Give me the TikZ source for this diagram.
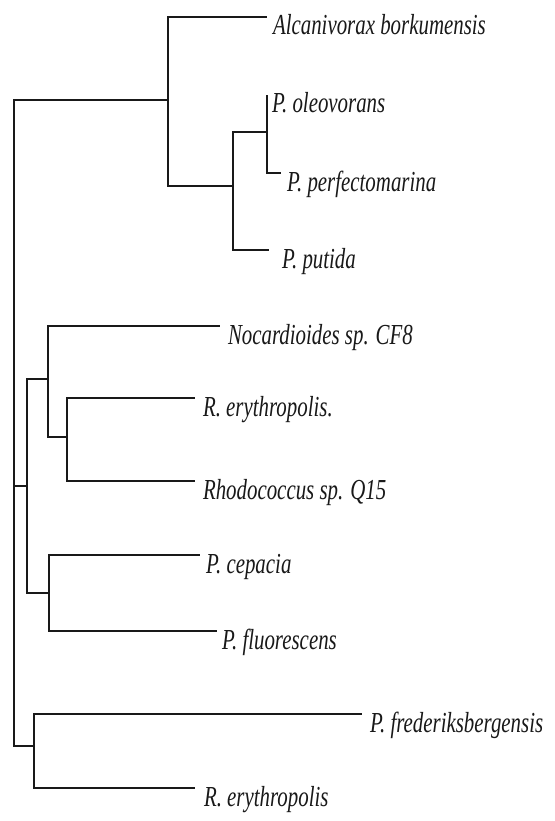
\documentclass[tikz,border=0pt]{standalone}
\usepackage{fontspec}
\setmainfont{Liberation Serif}
\usepackage{graphicx}
\newcommand\taxon[1]{\scalebox{0.72}[1]{\fontsize{29}{30}\selectfont\itshape #1}}
\begin{document}
\begin{tikzpicture}[x=1pt,y=-1pt,
  branch/.style={line width=2.2pt, line join=miter, draw=black!90},
  taxonlabel/.style={anchor=base west, inner sep=0pt, outer sep=0pt, text=black!90}]
\useasboundingbox[fill=white] (0,0) rectangle (554,821);
% internal nodes
\coordinate (root) at (14,486);
\coordinate (A) at (168,100);
\coordinate (B) at (233,186);
\coordinate (C) at (267,132);
\coordinate (D) at (27,486);
\coordinate (E) at (48,379);
\coordinate (F) at (67,437);
\coordinate (G) at (49,593);
\coordinate (H) at (34,746);
% leaf ends
\coordinate (alc) at (267,17);
\coordinate (ole) at (267,95);
\coordinate (per) at (281,173);
\coordinate (put) at (269,250);
\coordinate (noc) at (220,326);
\coordinate (rer1) at (195,398);
\coordinate (rho) at (195,481);
\coordinate (cep) at (200,555);
\coordinate (flu) at (217,631);
\coordinate (fre) at (362,714);
\coordinate (rer2) at (195,788);
% branches
\draw[branch] (root) |- (A);
\draw[branch] (root) -- (D);
\draw[branch] (root) |- (H);
\draw[branch] (A) |- (alc);
\draw[branch] (A) |- (B);
\draw[branch] (B) |- (C);
\draw[branch] (B) |- (put);
\draw[branch] (C) |- (ole);
\draw[branch] (C) |- (per);
\draw[branch] (D) |- (E);
\draw[branch] (D) |- (G);
\draw[branch] (E) |- (noc);
\draw[branch] (E) |- (F);
\draw[branch] (F) |- (rer1);
\draw[branch] (F) |- (rho);
\draw[branch] (G) |- (cep);
\draw[branch] (G) |- (flu);
\draw[branch] (H) |- (fre);
\draw[branch] (H) |- (rer2);
% labels
\node[taxonlabel] (alcL) at (273,35) {\taxon{Alcanivorax borkumensis}};
\node[taxonlabel] (oleL) at (272,113) {\taxon{P. oleovorans}};
\node[taxonlabel] (perL) at (287,191) {\taxon{P. perfectomarina}};
\node[taxonlabel] (putL) at (282,268) {\taxon{P. putida}};
\node[taxonlabel] (nocL) at (228,344) {\taxon{Nocardioides sp. CF8}};
\node[taxonlabel] (rer1L) at (203,416) {\taxon{R. erythropolis.}};
\node[taxonlabel] (rhoL) at (203,499) {\taxon{Rhodococcus sp. Q15}};
\node[taxonlabel] (cepL) at (206,573) {\taxon{P. cepacia}};
\node[taxonlabel] (fluL) at (222,649) {\taxon{P. fluorescens}};
\node[taxonlabel] (freL) at (370,732) {\taxon{P. frederiksbergensis}};
\node[taxonlabel] (rer2L) at (204,806) {\taxon{R. erythropolis}};
\end{tikzpicture}
\end{document}
